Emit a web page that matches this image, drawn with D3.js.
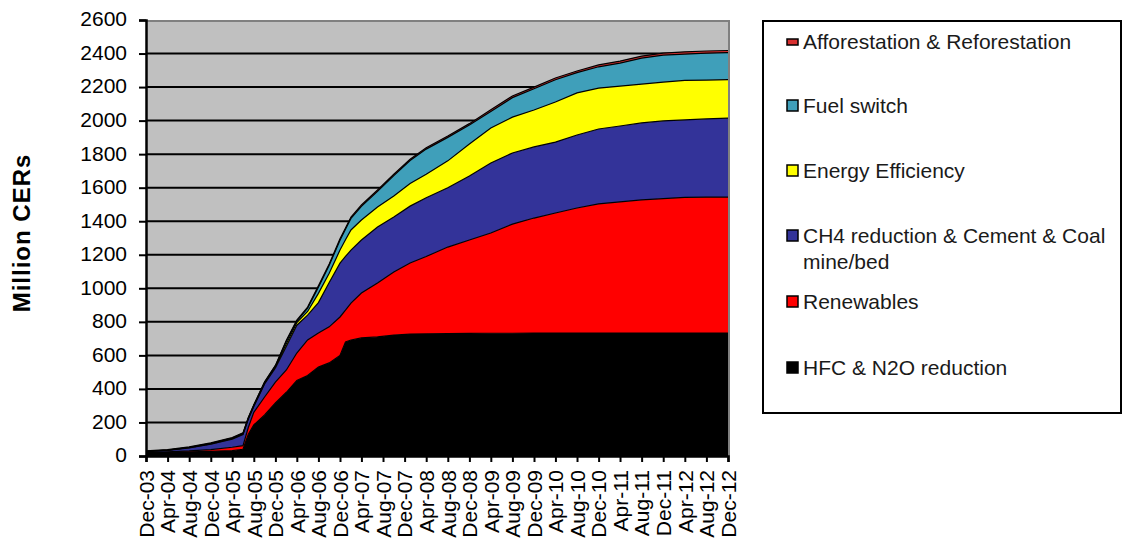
<!DOCTYPE html>
<html>
<head>
<meta charset="utf-8">
<script src="https://cdn.jsdelivr.net/npm/d3@7"></script>
<style>
body { margin: 0; background: #fff; }
text { font-family: "Liberation Sans", Arial, sans-serif; }
</style>
</head>
<body>
<div id="chart"></div>
<script>
var W = 1123, H = 548;

// x axis labels (every 4 months)
var tickLabels = ["Dec-03","Apr-04","Aug-04","Dec-04","Apr-05","Aug-05","Dec-05","Apr-06","Aug-06","Dec-06",
  "Apr-07","Aug-07","Dec-07","Apr-08","Aug-08","Dec-08","Apr-09","Aug-09","Dec-09","Apr-10",
  "Aug-10","Dec-10","Apr-11","Aug-11","Dec-11","Apr-12","Aug-12","Dec-12"];

// months where values were read
var months = ["Dec-03","Apr-04","Aug-04","Dec-04","Apr-05","Jun-05","Jul-05","Aug-05","Oct-05","Dec-05",
  "Feb-06","Apr-06","Jun-06","Aug-06","Oct-06","Dec-06","Jan-07","Feb-07","Apr-07","Jul-07",
  "Oct-07","Jan-08","Apr-08","Aug-08","Dec-08","Apr-09","Aug-09","Dec-09","Apr-10","Aug-10",
  "Dec-10","Apr-11","Aug-11","Dec-11","Apr-12","Aug-12","Dec-12"];

// series values (Million CERs), bottom to top
var hfc   = [18,22,25,28,32,40,130,185,245,316,380,450,480,530,555,600,680,692,704,710,721,727,728,730,731,732,732,733,733,733,733,733,733,733,733,733,733];
var renew = [2,3,5,10,20,22,40,75,107,125,133,164,212,203,215,229,190,220,268,322,376,424,462,516,557,598,651,686,716,746,770,782,794,802,809,811,811];
var ch4   = [6,9,18,32,48,66,50,35,78,84,142,166,148,182,265,321,320,316,316,334,328,339,350,354,382,417,424,424,423,435,447,453,459,463,462,466,471];
var eff   = [1,1,2,2,3,3,4,4,5,7,15,15,22,55,55,78,100,120,119,119,125,135,140,160,190,209,214,220,239,251,244,238,232,232,236,232,230];
var fuel  = [0,0,1,3,4,4,3,3,4,5,15,10,20,37,47,59,62,69,82,93,122,137,150,140,114,99,116,127,133,121,127,137,155,160,157,160,160];
var affor = [3,3,3,3,3,3,3,3,3,3,5,5,6,8,8,8,8,8,8,8,8,8,8,8,8,10,10,10,10,10,11,12,12,13,13,13,13];

var yTicks = [0,200,400,600,800,1000,1200,1400,1600,1800,2000,2200,2400,2600];

var keys = ["hfc","renew","ch4","eff","fuel","affor"];
var colors = {hfc:"#000000", renew:"#ff0000", ch4:"#333399", eff:"#ffff00", fuel:"#3f9fba", affor:"#d83030"};
var legendItems = [
  {key:"affor", lines:["Afforestation & Reforestation"], y:42, thin:true},
  {key:"fuel",  lines:["Fuel switch"], y:106},
  {key:"eff",   lines:["Energy Efficiency"], y:171},
  {key:"ch4",   lines:["CH4 reduction & Cement & Coal", "mine/bed"], y:236},
  {key:"renew", lines:["Renewables"], y:302},
  {key:"hfc",   lines:["HFC & N2O reduction"], y:368}
];

var parse = d3.timeParse("%b-%y");
var rows = months.map(function(m, i){
  return {date: parse(m), hfc: hfc[i], renew: renew[i], ch4: ch4[i], eff: eff[i], fuel: fuel[i], affor: affor[i]};
});

var pLeft = 146, pRight = 728, pTop = 20, pBottom = 456;

var x = d3.scaleTime().domain([parse("Dec-03"), parse("Dec-12")]).range([pLeft, pRight]);
var y = d3.scaleLinear().domain([0, 2600]).range([pBottom, pTop]);

var svg = d3.select("#chart").append("svg")
  .attr("width", W).attr("height", H);

// plot background
svg.append("rect")
  .attr("x", pLeft).attr("y", pTop)
  .attr("width", pRight - pLeft).attr("height", pBottom - pTop)
  .attr("fill", "#c0c0c0");

// gridlines
svg.append("g").selectAll("line")
  .data(yTicks.filter(function(d){ return d > 0 && d < 2600; }))
  .enter().append("line")
  .attr("x1", pLeft).attr("x2", pRight)
  .attr("y1", function(d){ return y(d); })
  .attr("y2", function(d){ return y(d); })
  .attr("stroke", "#000").attr("stroke-width", 2);

// stacked areas
var series = d3.stack().keys(keys)(rows);
var area = d3.area()
  .x(function(d){ return x(d.data.date); })
  .y0(function(d){ return y(d[0]); })
  .y1(function(d){ return y(d[1]); });
var topLine = d3.line()
  .x(function(d){ return x(d.data.date); })
  .y(function(d){ return y(d[1]); });

svg.append("g").selectAll("path")
  .data(series)
  .enter().append("path")
  .attr("d", area)
  .attr("fill", function(d){ return colors[d.key]; });

svg.append("g").selectAll("path")
  .data(series)
  .enter().append("path")
  .attr("d", topLine)
  .attr("fill", "none")
  .attr("stroke", "#000")
  .attr("stroke-width", 1.2);

// plot frame top / right
svg.append("path")
  .attr("d", "M" + pLeft + "," + (pTop + 1) + "H" + (pRight + 1) + "V" + pBottom)
  .attr("fill", "none").attr("stroke", "#808080").attr("stroke-width", 2);

// y axis
var yAxis = svg.append("g")
  .attr("transform", "translate(" + pLeft + ",0)")
  .call(d3.axisLeft(y).tickValues(yTicks).tickSize(7).tickPadding(12).tickFormat(d3.format("d")));
yAxis.select(".domain").attr("stroke", "#000").attr("stroke-width", 2.5);
yAxis.selectAll(".tick line").attr("stroke", "#000").attr("stroke-width", 2);
yAxis.selectAll("text")
  .attr("font-size", "21px")
  .attr("font-family", "Liberation Sans, Arial, sans-serif")
  .attr("fill", "#000")
  .attr("dy", "0.28em");

// x axis
var xAxis = svg.append("g")
  .attr("transform", "translate(0," + pBottom + ")")
  .call(d3.axisBottom(x).tickValues(tickLabels.map(parse)).tickSize(6).tickFormat(d3.timeFormat("%b-%y")));
xAxis.select(".domain").attr("stroke", "#000").attr("stroke-width", 2.5);
xAxis.selectAll(".tick line").attr("stroke", "#000").attr("stroke-width", 2);
xAxis.selectAll("text")
  .attr("font-size", "21px")
  .attr("font-family", "Liberation Sans, Arial, sans-serif")
  .attr("fill", "#000")
  .attr("transform", "rotate(-90)")
  .attr("x", -14)
  .attr("y", 0)
  .attr("dy", "0.35em")
  .style("text-anchor", "end");

// y title
svg.append("text")
  .attr("transform", "translate(30,233) rotate(-90)")
  .attr("text-anchor", "middle")
  .attr("font-size", "24px")
  .attr("font-weight", "bold")
  .attr("letter-spacing", "1px")
  .attr("fill", "#000")
  .text("Million CERs");

// legend
var legend = svg.append("g").attr("class", "legend");
legend.append("rect")
  .attr("x", 763).attr("y", 21)
  .attr("width", 358).attr("height", 392)
  .attr("fill", "#fff").attr("stroke", "#000").attr("stroke-width", 2);

var item = legend.selectAll("g.item")
  .data(legendItems)
  .enter().append("g").attr("class", "item");

item.append("rect")
  .attr("x", 787)
  .attr("y", function(d){ return d.thin ? d.y - 3 : d.y - 6; })
  .attr("width", 11)
  .attr("height", function(d){ return d.thin ? 6 : 11; })
  .attr("fill", function(d){ return colors[d.key]; })
  .attr("stroke", "#000").attr("stroke-width", 1.5);

item.append("text")
  .attr("x", 803)
  .attr("y", function(d){ return d.y; })
  .attr("font-size", "21px")
  .attr("fill", "#1a1a1a")
  .each(function(d){
    var t = d3.select(this);
    d.lines.forEach(function(line, i){
      t.append("tspan")
        .attr("x", 803)
        .attr("dy", i === 0 ? "0.35em" : "26px")
        .text(line);
    });
  });
</script>
</body>
</html>
